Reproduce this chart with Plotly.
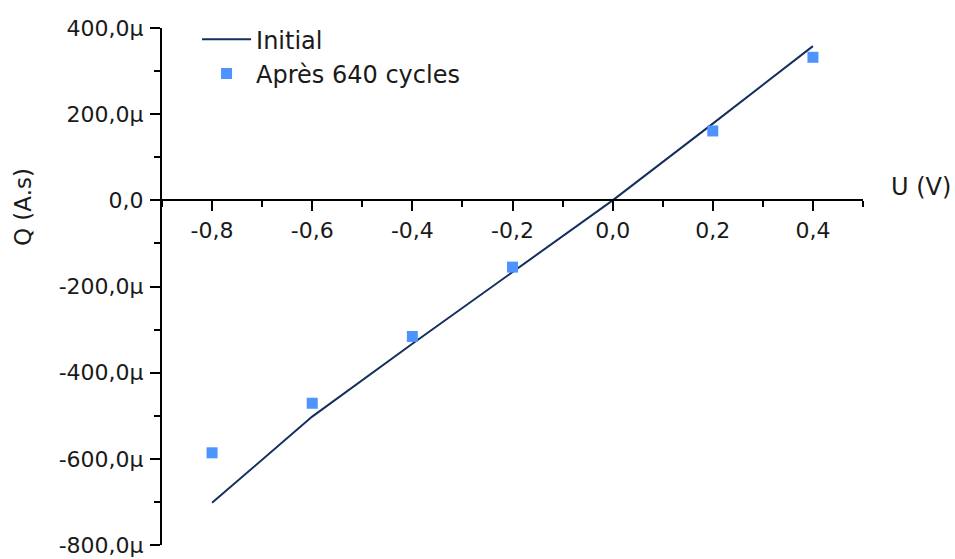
import plotly.graph_objects as go

# Data (Q in µA.s)
u_initial = [-0.8, -0.6, -0.4, -0.2, 0.0, 0.2, 0.4]
q_initial = [-702, -502, -333, -167, 0, 178, 358]

u_after = [-0.8, -0.6, -0.4, -0.2, 0.2, 0.4]
q_after = [-586, -471, -316, -155, 161, 332]

x_tickvals = [-0.8, -0.6, -0.4, -0.2, 0.0, 0.2, 0.4]
x_ticktext = ["-0,8", "-0,6", "-0,4", "-0,2", "0,0", "0,2", "0,4"]
y_tickvals = [-800, -600, -400, -200, 0, 200, 400]
y_ticktext = ["-800,0µ", "-600,0µ", "-400,0µ", "-200,0µ", "0,0", "200,0µ", "400,0µ"]

FONT = "DejaVu Sans"
TXT = "#1a1a1a"

fig = go.Figure()
fig.add_trace(go.Scatter(x=u_initial, y=q_initial, mode="lines", name="Initial",
                         line=dict(color="#132f5e", width=2)))
fig.add_trace(go.Scatter(x=u_after, y=q_after, mode="markers", name="Après 640 cycles",
                         marker=dict(symbol="square", size=11, color="#4d94ff")))

fig.update_layout(
    width=955, height=559,
    margin=dict(l=162, r=92, t=28, b=14, autoexpand=False),
    plot_bgcolor="white", paper_bgcolor="white",
    font=dict(family=FONT, size=22, color=TXT),
    showlegend=True,
    legend=dict(x=0.05, y=1.021, xanchor="left", yanchor="top", itemwidth=49,
                bgcolor="rgba(0,0,0,0)", font=dict(family=FONT, size=24, color=TXT),
                tracegroupgap=0),
    xaxis=dict(range=[-0.9, 0.5], anchor="free", position=2/3, automargin=False,
               showline=True, linecolor="black", linewidth=2,
               showgrid=False, zeroline=False,
               tickmode="array", tickvals=x_tickvals, ticktext=x_ticktext,
               ticks="outside", ticklen=10, tickwidth=2, tickcolor="black",
               tickfont=dict(family=FONT, size=22, color=TXT),
               minor=dict(tickmode="linear", tick0=0, dtick=0.1, ticks="outside",
                          ticklen=6, tickwidth=2, tickcolor="black")),
    yaxis=dict(range=[-800, 400], automargin=False,
               showline=True, linecolor="black", linewidth=2,
               showgrid=False, zeroline=False,
               tickmode="array", tickvals=y_tickvals, ticktext=y_ticktext,
               ticks="outside", ticklen=10, tickwidth=2, tickcolor="black",
               ticklabelstandoff=2,
               tickfont=dict(family=FONT, size=22, color=TXT),
               minor=dict(tickmode="linear", tick0=0, dtick=100, ticks="outside",
                          ticklen=6, tickwidth=2, tickcolor="black")),
)

fig.add_annotation(text="U (V)", xref="paper", yref="paper", x=1.083, y=0.692,
                   xanchor="center", yanchor="middle", showarrow=False,
                   font=dict(family=FONT, size=24, color=TXT))
fig.add_annotation(text="Q (A.s)", xref="paper", yref="paper", x=-0.198, y=0.654,
                   xanchor="center", yanchor="middle", textangle=-90, showarrow=False,
                   font=dict(family=FONT, size=23, color=TXT))

fig.write_html("out.html", config={"displayModeBar": False},
               post_script="document.body.style.margin='0';")
